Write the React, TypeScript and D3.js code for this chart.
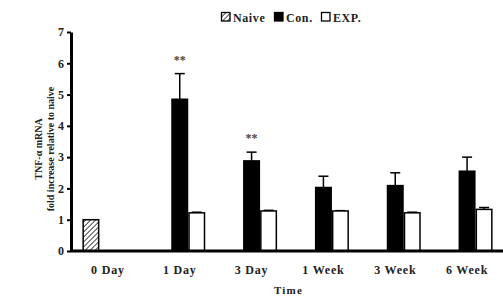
import React, { useEffect, useRef } from 'react';
import * as d3 from 'd3';

const timepoints = ['0 Day', '1 Day', '3 Day', '1 Week', '3 Week', '6 Week'];
const seriesNames = ['Naive', 'Con.', 'EXP.'];
const naiveValues = [1.0, null, null, null, null, null];
const naiveErrors = [0, null, null, null, null, null];
const conValues = [null, 4.85, 2.88, 2.03, 2.09, 2.55];
const conErrors = [null, 0.82, 0.28, 0.36, 0.41, 0.45];
const expValues = [null, 1.22, 1.28, 1.28, 1.22, 1.33];
const expErrors = [null, 0.02, 0.02, 0.01, 0.02, 0.06];
const stars = [null, '**', '**', null, null, null];
const yTicks = [0, 1, 2, 3, 4, 5, 6, 7];

const width = 503;
const height = 297;
const font = '"Liberation Serif", "Times New Roman", serif';

const App: React.FC = () => {
  const ref = useRef<SVGSVGElement | null>(null);
  const margin = { top: 32, right: 0, bottom: 46, left: 72 };

  useEffect(() => {
    if (!ref.current) return;
    const svg = d3.select(ref.current);
    svg.selectAll('*').remove();

    // hatch pattern for naive
    const defs = svg.append('defs');
    const pat = defs.append('pattern')
      .attr('id', 'hatch')
      .attr('patternUnits', 'userSpaceOnUse')
      .attr('width', 3.5)
      .attr('height', 3.5)
      .attr('patternTransform', 'rotate(45)');
    pat.append('rect').attr('width', 3.5).attr('height', 3.5).attr('fill', '#fff');
    pat.append('line')
      .attr('x1', 0).attr('y1', 0).attr('x2', 0).attr('y2', 3.5)
      .attr('stroke', '#222').attr('stroke-width', 1.6);

    const fills = ['url(#hatch)', '#000', '#fff'];

    const x0 = d3.scaleBand<string>()
      .domain(timepoints)
      .range([margin.left, width - margin.right])
      .paddingInner(0.29)
      .paddingOuter(0.145);

    const x1 = d3.scaleBand<string>()
      .domain(seriesNames)
      .range([0, x0.bandwidth()]);

    const y = d3.scaleLinear()
      .domain([0, 7])
      .range([height - margin.bottom, margin.top]);

    const rows = timepoints.map((t, i) => ({
      t,
      items: [
        { key: seriesNames[0], v: naiveValues[i], e: naiveErrors[i] },
        { key: seriesNames[1], v: conValues[i], e: conErrors[i] },
        { key: seriesNames[2], v: expValues[i], e: expErrors[i] },
      ].filter(d => d.v !== null) as { key: string; v: number; e: number }[],
      star: stars[i],
    }));

    const group = svg.append('g')
      .selectAll('g')
      .data(rows)
      .join('g')
      .attr('transform', d => `translate(${x0(d.t)},0)`);

    // error bars (upper only)
    group.selectAll('g.err')
      .data(d => d.items.filter(it => it.e > 0))
      .join('g')
      .attr('class', 'err')
      .each(function (d) {
        const g = d3.select(this);
        const cx = x1(d.key)! + x1.bandwidth() / 2;
        g.append('line')
          .attr('x1', cx).attr('x2', cx)
          .attr('y1', y(d.v)).attr('y2', y(d.v + d.e))
          .attr('stroke', '#000').attr('stroke-width', 1.5);
        g.append('line')
          .attr('x1', cx - 5).attr('x2', cx + 5)
          .attr('y1', y(d.v + d.e)).attr('y2', y(d.v + d.e))
          .attr('stroke', '#000').attr('stroke-width', 1.5);
      });

    group.selectAll('rect')
      .data(d => d.items)
      .join('rect')
      .attr('x', d => x1(d.key)! + 0.75)
      .attr('y', d => y(d.v))
      .attr('width', x1.bandwidth() - 1.5)
      .attr('height', d => y(0) - y(d.v))
      .attr('fill', d => fills[seriesNames.indexOf(d.key)])
      .attr('stroke', '#000')
      .attr('stroke-width', 1.5);

    // significance stars above the Con. error bar
    group.filter(d => !!d.star)
      .append('text')
      .attr('x', x1(seriesNames[1])! + x1.bandwidth() / 2)
      .attr('y', d => {
        const c = d.items.find(it => it.key === seriesNames[1])!;
        return y(c.v + c.e) - 10;
      })
      .attr('text-anchor', 'middle')
      .style('font-family', font)
      .style('font-size', '12px')
      .style('font-weight', 'bold')
      .attr('fill', '#444')
      .text(d => d.star!);

    // x axis
    const xAxis = svg.append('g')
      .attr('transform', `translate(0,${y(0)})`)
      .call(d3.axisBottom(x0).tickSize(0).tickPadding(14));
    xAxis.select('.domain')
      .attr('d', `M${margin.left - 1},0H${width}`)
      .attr('stroke', '#000').attr('stroke-width', 3);
    xAxis.selectAll('text')
      .style('font-family', font)
      .style('font-size', '12px')
      .style('font-weight', 'bold')
      .style('letter-spacing', '0.8px')
      .attr('fill', '#222');

    // y axis
    const yAxis = svg.append('g')
      .attr('transform', `translate(${margin.left - 1},0)`)
      .call(d3.axisLeft(y).tickValues(yTicks).tickFormat(d3.format('d')).tickSize(4).tickSizeOuter(0).tickPadding(3));
    yAxis.select('.domain').attr('stroke', '#000').attr('stroke-width', 3);
    yAxis.selectAll('.tick line').attr('stroke', '#000').attr('stroke-width', 2);
    yAxis.selectAll('text')
      .style('font-family', font)
      .style('font-size', '12px')
      .style('font-weight', 'bold')
      .attr('fill', '#222');

    // axis titles
    svg.append('text')
      .attr('x', (margin.left + width) / 2 + 1)
      .attr('y', 294)
      .attr('text-anchor', 'middle')
      .style('font-family', font)
      .style('font-size', '11px')
      .style('font-weight', 'bold')
      .style('letter-spacing', '1.2px')
      .attr('fill', '#222')
      .text('Time');

    const yLabel = svg.append('text')
      .attr('transform', 'translate(42,149) rotate(-90)')
      .attr('text-anchor', 'middle')
      .style('font-family', font)
      .style('font-size', '10px')
      .style('font-weight', 'bold')
      .attr('fill', '#222');
    yLabel.append('tspan').attr('x', 0).attr('dy', 0).text('TNF-α mRNA');
    yLabel.append('tspan').attr('x', 0).attr('dy', 11.5).text('fold increase relative to naive');

    // legend
    const legendX = [221, 274, 321];
    const legend = svg.append('g')
      .selectAll('g')
      .data(seriesNames)
      .join('g')
      .attr('transform', (d, i) => `translate(${legendX[i]},12)`);
    legend.append('rect')
      .attr('x', 0.5).attr('y', 0.5)
      .attr('width', 8.5).attr('height', 8.5)
      .attr('fill', (d, i) => fills[i])
      .attr('stroke', '#000').attr('stroke-width', 1.3);
    legend.append('text')
      .attr('x', 12).attr('y', 9.5)
      .style('font-family', font)
      .style('font-size', '12px')
      .style('font-weight', 'bold')
      .style('letter-spacing', '0.6px')
      .attr('fill', '#222')
      .text(d => d);
  }, []);

  return <svg ref={ref} width={width} height={height} style={{ position: 'absolute', left: 0, top: 0 }} />;
};

export default App;
